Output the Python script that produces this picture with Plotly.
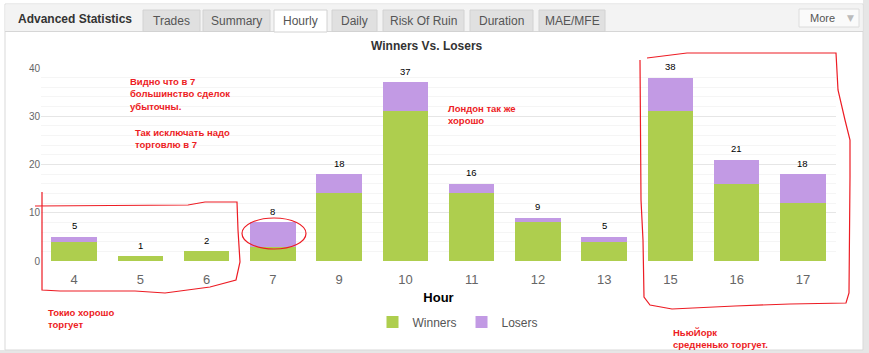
import plotly.graph_objects as go

hours = ["4", "5", "6", "7", "9", "10", "11", "12", "13", "15", "16", "17"]
winners = [4, 1, 2, 3, 14, 31, 14, 8, 4, 31, 16, 12]
losers = [1, 0, 0, 5, 4, 6, 2, 1, 1, 7, 5, 6]
totals = [w + l for w, l in zip(winners, losers)]
y_ticks = [0, 10, 20, 30, 40]

tabs = ["Trades", "Summary", "Hourly", "Daily", "Risk Of Ruin", "Duration", "MAE/MFE"]
tab_spans = [(143, 200), (203, 270), (274, 327), (332, 377), (383, 464), (470, 533), (539, 605)]
active_tab = "Hourly"

W, H = 869, 353
L, R, T, B = 41, 836, 68, 261
RED = "#ED1C24"
GREEN = "#AECE4E"
PURPLE = "#C29AE4"


def px(x):
    return (x - L) / (R - L)


def py(y):
    return (B - y) / (B - T)


def path(points):
    s = "M " + " L ".join(f"{px(x):.5f},{py(y):.5f}" for x, y in points)
    return s


fig = go.Figure()
fig.add_trace(go.Bar(x=hours, y=winners, name="Winners", marker=dict(color=GREEN, line=dict(width=0))))
fig.add_trace(go.Bar(x=hours, y=losers, name="Losers", marker=dict(color=PURPLE, line=dict(width=0))))

shapes = []
annotations = []

# outer container
shapes.append(dict(type="rect", xref="paper", yref="paper", x0=px(863), x1=px(869), y0=py(0), y1=py(353),
                   fillcolor="#e6e6e6", line=dict(width=0), layer="below"))
shapes.append(dict(type="rect", xref="paper", yref="paper", x0=px(0), x1=px(869), y0=py(350), y1=py(353),
                   fillcolor="#e6e6e6", line=dict(width=0), layer="below"))
shapes.append(dict(type="rect", xref="paper", yref="paper", x0=px(5), x1=px(863), y0=py(4), y1=py(350),
                   fillcolor="white", line=dict(color="#d9d9d9", width=1), layer="below"))
# header band
shapes.append(dict(type="rect", xref="paper", yref="paper", x0=px(5.5), x1=px(862.5), y0=py(4.5), y1=py(31.5),
                   fillcolor="#f3f3f3", line=dict(width=0)))
shapes.append(dict(type="line", xref="paper", yref="paper", x0=px(5), x1=px(863), y0=py(31.5), y1=py(31.5),
                   line=dict(color="#d6d6d6", width=1)))
annotations.append(dict(text="<b>Advanced Statistics</b>", x=px(16), y=py(19), xref="paper", yref="paper",
                        xanchor="left", yanchor="middle", showarrow=False,
                        font=dict(family="Liberation Sans", size=12, color="#333333")))
for name, (x0, x1) in zip(tabs, tab_spans):
    active = name == active_tab
    shapes.append(dict(type="rect", xref="paper", yref="paper", x0=px(x0), x1=px(x1),
                       y0=py(10), y1=py(32 if active else 31.5),
                       fillcolor="white" if active else "#e0e0e0",
                       line=dict(color="#d2d2d2", width=1)))
    annotations.append(dict(text=name, x=px((x0 + x1) / 2), y=py(21), xref="paper", yref="paper",
                            xanchor="center", yanchor="middle", showarrow=False,
                            font=dict(family="Liberation Sans", size=12, color="#555555")))
# "More" button
shapes.append(dict(type="rect", xref="paper", yref="paper", x0=px(799), x1=px(859), y0=py(9), y1=py(27),
                   fillcolor="#fafafa", line=dict(color="#dcdcdc", width=1)))
annotations.append(dict(text="More", x=px(822), y=py(18), xref="paper", yref="paper", xanchor="center",
                        yanchor="middle", showarrow=False,
                        font=dict(family="Liberation Sans", size=11, color="#555555")))
annotations.append(dict(text="▼", x=px(850), y=py(18), xref="paper", yref="paper", xanchor="center",
                        yanchor="middle", showarrow=False,
                        font=dict(family="DejaVu Sans", size=9, color="#bbbbbb")))

# chart title
annotations.append(dict(text="<b>Winners Vs. Losers</b>", x=px(427), y=py(46), xref="paper", yref="paper",
                        xanchor="center", yanchor="middle", showarrow=False,
                        font=dict(family="Liberation Sans", size=12, color="#333333")))

# total labels above bars (category index positions on the x axis)
for i, t in enumerate(totals):
    annotations.append(dict(text=str(t), x=i, y=t, xref="x", yref="y", yshift=11, showarrow=False,
                            xanchor="center", yanchor="middle",
                            font=dict(family="Liberation Sans", size=9.5, color="#000000")))

# red notes
notes = [
    ("Видно что в 7<br>большинство сделок<br>убыточны.", 128, 94),
    ("Так исключать надо<br>торговлю в 7", 133, 138),
    ("Лондон так же<br>хорошо", 446, 114),
    ("Токио хорошо<br>торгует", 46, 318),
    ("НьюЙорк<br>средненько торгует.", 671, 338),
]
for txt, x, y in notes:
    annotations.append(dict(text=f"<b>{txt}</b>", x=px(x), y=py(y), xref="paper", yref="paper",
                            xanchor="left", yanchor="middle", align="left", showarrow=False,
                            font=dict(family="Liberation Sans", size=9.5, color=RED)))

# hand-drawn marks
tokyo = [(42, 192), (42, 290), (60, 291), (135, 291), (165, 293), (210, 287), (236, 280), (240, 262),
         (238, 230), (237, 202), (205, 202), (188, 205), (35, 206)]
ny = [(647, 58), (687, 53), (760, 53), (836, 53), (838, 90), (845, 120), (850, 140), (850, 177),
      (849, 293), (846, 303), (790, 304), (735, 306), (672, 309), (650, 305), (644, 297), (643, 240),
      (641, 200), (640, 60)]
for pts in (tokyo, ny):
    shapes.append(dict(type="path", xref="paper", yref="paper", path=path(pts),
                       line=dict(color=RED, width=1.2)))
shapes.append(dict(type="circle", xref="paper", yref="paper", x0=px(242), x1=px(306), y0=py(218), y1=py(249),
                   line=dict(color=RED, width=1.2)))

fig.update_layout(
    width=W, height=H,
    margin=dict(l=L, r=W - R, t=T, b=H - B),
    barmode="stack", bargap=0.31,
    paper_bgcolor="white", plot_bgcolor="white",
    font=dict(family="Liberation Sans", color="#666666"),
    showlegend=True,
    legend=dict(orientation="h", x=px(458), xanchor="center", y=py(322), yanchor="middle",
                font=dict(size=12, color="#555555"), bgcolor="rgba(0,0,0,0)", traceorder="normal",
                itemsizing="constant"),
    xaxis=dict(type="category", range=[-0.5, len(hours) - 0.5], showgrid=False, zeroline=False,
               showline=False, ticks="",
               ticklabelstandoff=9, tickfont=dict(size=13, color="#666666"),
               title=dict(text="<b>Hour</b>", font=dict(size=13, color="#000000"), standoff=6)),
    yaxis=dict(range=[0, 40], tickvals=y_ticks, showgrid=True, gridcolor="#e6e6e6", zeroline=False,
               showline=False, ticks="", tickfont=dict(size=10, color="#666666"),
               minor=dict(dtick=2, showgrid=True, gridcolor="#f5f5f5")),
    shapes=shapes, annotations=annotations,
)

fig.write_html("out.html")
